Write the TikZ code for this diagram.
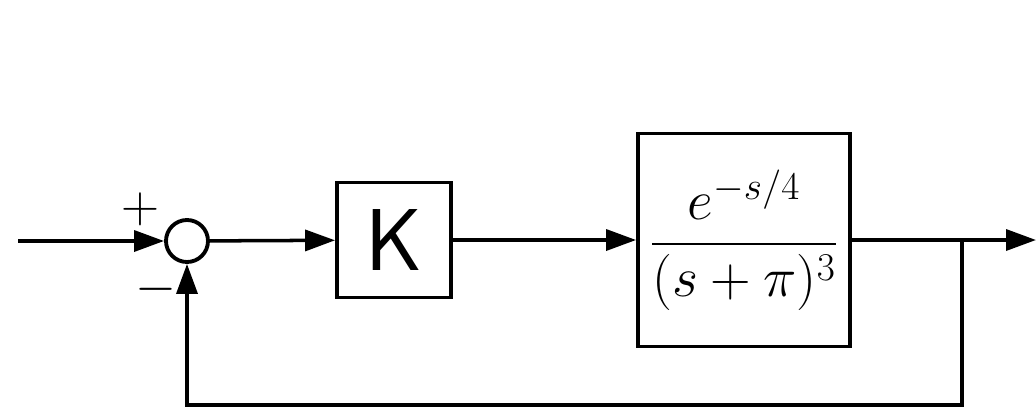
\RequirePackage{fix-cm}
\documentclass[tikz,border=0pt]{standalone}
\usepackage{amsmath}
\usepackage{tikz}
\usetikzlibrary{arrows.meta}

\tikzset{
    block/.style = {draw, line width=2.2pt, inner sep=0pt},
    signal/.style = {line width=2pt, -{Triangle[length=6mm, width=4.2mm]}}
}

\begin{document}
\begin{tikzpicture}
            \useasboundingbox (0,0) rectangle (20.72,8.3);

            \node [block, circle, minimum size=8.4mm] (sum) at (3.74,3.48) {};
            \node [block, minimum width=2.28cm, minimum height=2.3cm,
            font=\fontsize{50}{56}\selectfont\sffamily] (gain) at (7.88,3.5) {K};
            \node [block, minimum width=4.24cm, minimum height=4.26cm,
            font=\fontsize{32}{38}\selectfont] (plant) at (14.88,3.5)
            {$\dfrac{e^{-s/4}}{(s+\pi)^3}$};

            \node [font=\fontsize{30}{36}\selectfont] (plus) at (2.8,4.12) {$+$};
            \node [font=\fontsize{30}{36}\selectfont] (minus) at (3.12,2.52) {$-$};

            \coordinate (in) at (0.36,3.48);
            \coordinate (out) at (20.72,3.5);
            \coordinate (branch) at (19.24,3.5);
            \coordinate (corner) at (3.74,0.2);

            \draw [signal] (in) -- (sum);
            \draw [signal] (sum) -- (gain);
            \draw [signal] (gain) -- (plant);
            \draw [signal] (plant) -- (out);
            % feedback path
            \draw [signal] (branch) |- (corner) -- (sum);
\end{tikzpicture}
\end{document}
